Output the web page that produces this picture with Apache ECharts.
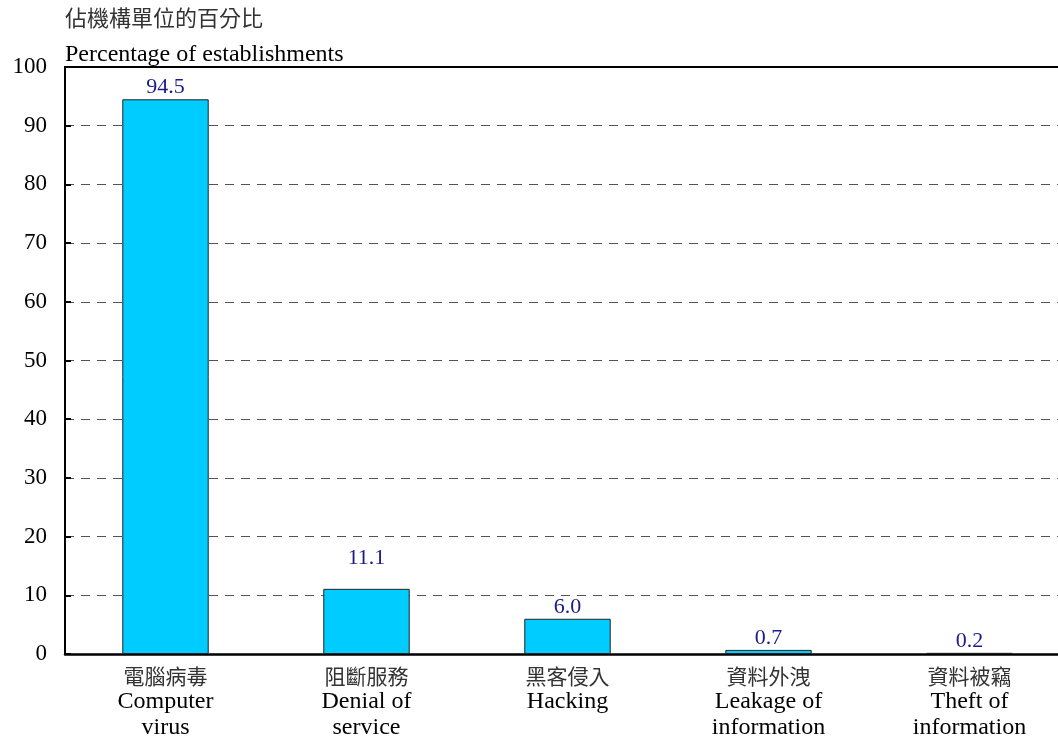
<!DOCTYPE html>
<html>
<head>
<meta charset="utf-8">
<script src="https://cdn.jsdelivr.net/npm/echarts@6/dist/echarts.min.js"></script>
<style>
html, body { margin: 0; padding: 0; background: #fff; }
#chart { width: 1058px; height: 744px; }
</style>
</head>
<body>
<div id="chart"></div>
<script>
// categories: Chinese / English
var catZh = ['電腦病毒', '阻斷服務', '黑客侵入', '資料外洩', '資料被竊'];
var catEn = ['Computer\nvirus', 'Denial of\nservice', 'Hacking', 'Leakage of\ninformation', 'Theft of\ninformation'];
var values = [94.5, 11.1, 6.0, 0.7, 0.2];

var serif = '"Liberation Serif", "DejaVu Serif", serif';
var cjk = '"Noto Sans CJK TC", "Noto Sans CJK SC", sans-serif';

var labels = catZh.map(function (z, i) {
	return z + '\n' + catEn[i];
});

var barData = values.map(function (v, i) {
	// 11.1 的標籤在原圖中位置較高
	if (i === 1) {
		return { value: v, label: { distance: 20 } };
	}
	return v;
});

var myChart = echarts.init(document.getElementById('chart'));
myChart.setOption({
	backgroundColor: '#fff',
	animation: false,
	title: {
		left: 65,
		top: 2,
		padding: 0,
		text: '{zh|佔機構單位的百分比}\n{en|Percentage of establishments}',
		textStyle: {
			rich: {
				zh: { fontFamily: cjk, fontSize: 22, fontWeight: 'normal', color: '#333', lineHeight: 32 },
				en: { fontFamily: serif, fontSize: 24, fontWeight: 'normal', color: '#000', lineHeight: 42 }
			}
		}
	},
	grid: {
		left: 65,
		width: 1005,
		top: 67,
		bottom: 90,
		containLabel: false,
		outerBoundsMode: 'none'
	},
	xAxis: [
		{
			type: 'category',
			data: labels,
			axisLine: { lineStyle: { color: '#000', width: 2.5 } },
			axisTick: { show: false },
			axisLabel: {
				interval: 0,
				margin: 9,
				formatter: function (val) {
					var parts = val.split('\n');
					var out = '{zh|' + parts[0] + '}';
					for (var k = 1; k < parts.length; k++) {
						out += '\n{en|' + parts[k] + '}';
					}
					return out;
				},
				rich: {
					zh: { fontFamily: cjk, fontSize: 21, color: '#333', lineHeight: 26 },
					en: { fontFamily: serif, fontSize: 24, color: '#000', lineHeight: 26 }
				}
			}
		},
		{
			type: 'category',
			position: 'top',
			data: labels,
			axisLine: { show: true, lineStyle: { color: '#000', width: 2 } },
			axisTick: { show: false },
			axisLabel: { show: false }
		}
	],
	yAxis: {
		type: 'value',
		min: 0,
		max: 100,
		interval: 10,
		axisLine: { show: true, lineStyle: { color: '#000', width: 2 } },
		axisTick: { show: true, inside: true, length: 6, lineStyle: { color: '#000', width: 2 } },
		axisLabel: {
			margin: 18,
			fontFamily: serif,
			fontSize: 23,
			color: '#000'
		},
		splitLine: {
			show: true,
			lineStyle: { color: '#555', type: [9, 7], width: 1 }
		}
	},
	series: [
		{
			type: 'bar',
			data: barData,
			barWidth: '43%',
			itemStyle: {
				color: '#00ccff',
				borderColor: '#222',
				borderWidth: 1
			},
			label: {
				show: true,
				position: 'top',
				distance: 1,
				fontFamily: serif,
				fontSize: 22,
				color: '#1a1a8a',
				formatter: function (p) {
					return p.value.toFixed(1);
				}
			}
		}
	]
});
</script>
</body>
</html>
